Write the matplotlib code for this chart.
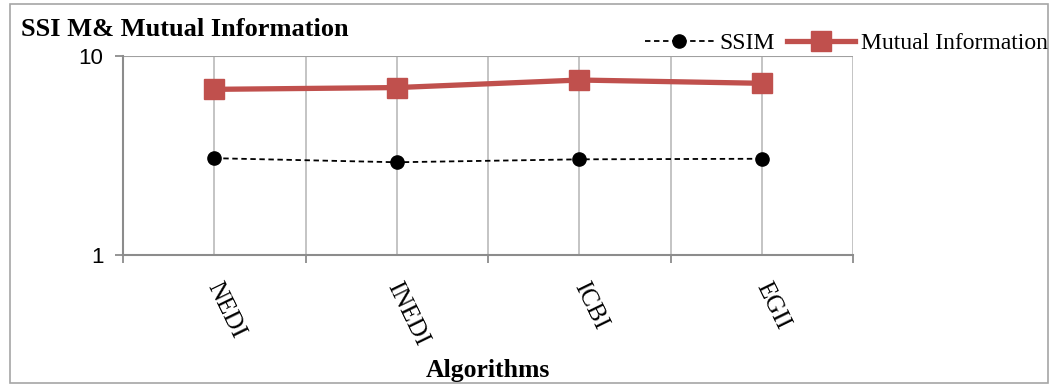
import matplotlib
matplotlib.use("Agg")
import matplotlib.pyplot as plt
import matplotlib.transforms as mtransforms
from matplotlib.patches import Rectangle
from matplotlib.ticker import FixedLocator, NullLocator, NullFormatter

# ── Data ──────────────────────────────────────────────────────────────────────
algorithms = ["NEDI", "INEDI", "ICBI", "EGII"]
ssim = [3.06, 2.92, 3.02, 3.04]
mutual_info = [6.78, 6.92, 7.55, 7.27]

SERIF = "Liberation Serif"
GRID = "#BFBFBF"
AXIS = "#8C8C8C"
RED = "#C0504D"

fig = plt.figure(figsize=(10.53, 3.87), dpi=100)
W, H = 1053, 387

# outer chart border
fig.patches.append(Rectangle((10 / W, 4 / H), 1038 / W, 379 / H,
                             transform=fig.transFigure, fill=False,
                             edgecolor="#A6A6A6", linewidth=1.2))

ax = fig.add_axes([123 / W, 1 - 255 / H, 730 / W, 199.3 / H])
x = list(range(len(algorithms)))

ax.plot(x, ssim, linestyle=(0, (3, 2)), color="black", linewidth=1.3,
        marker="o", markersize=9.5, label="SSIM", zorder=4)
ax.plot(x, mutual_info, color=RED, linewidth=3.8, marker="s",
        markersize=14.5, label="Mutual Information", zorder=5)

ax.set_yscale("log")
ax.set_ylim(1, 10)
ax.set_xlim(-0.5, len(algorithms) - 0.5)

# vertical gridlines at category centres and boundaries
for k in range(2 * len(algorithms) + 1):
    ax.axvline(-0.5 + 0.5 * k, color=GRID, linewidth=1.3, zorder=1)
ax.axhline(10, color="#A0A0A0", linewidth=1.5, zorder=1)

for s in ["top", "right"]:
    ax.spines[s].set_visible(False)
for s in ["left", "bottom"]:
    ax.spines[s].set_color(AXIS)
    ax.spines[s].set_linewidth(1.5)

ax.yaxis.set_major_locator(FixedLocator([1, 10]))
ax.yaxis.set_minor_locator(NullLocator())
ax.yaxis.set_minor_formatter(NullFormatter())
ax.set_yticklabels(["1", "10"], fontfamily="Liberation Sans", fontsize=16)
ax.tick_params(axis="y", which="major", length=6, width=1.3, color=AXIS, pad=8)

# x ticks: marks at boundaries, labels at centres
ax.set_xticks([i - 0.5 for i in range(len(algorithms) + 1)])
ax.set_xticklabels([])
ax.tick_params(axis="x", which="major", length=6, width=1.3, color=AXIS)

for i, name in enumerate(algorithms):
    off = mtransforms.offset_copy(ax.get_xaxis_transform(), fig=fig,
                                  x=11, y=-24, units="dots")
    ax.text(i, 0, name, transform=off, rotation=-64, ha="center", va="top",
            fontfamily=SERIF, fontsize=18)

fig.text(488 / W, 1 - 370 / H, "Algorithms", ha="center", va="center",
         fontfamily=SERIF, fontsize=18.5, fontweight="bold")
fig.text(21 / W, 1 - 30 / H, "SSI M& Mutual Information", ha="left",
         va="center", fontfamily=SERIF, fontsize=19, fontweight="bold")

fig.legend(loc="center right", bbox_to_anchor=(1048 / W, 1 - 43 / H),
           ncol=2, frameon=False, prop={"family": SERIF, "size": 17},
           handlelength=2.9, handletextpad=0.25, columnspacing=0.5,
           borderpad=0, borderaxespad=0)

fig.savefig("out.png", dpi=100)
